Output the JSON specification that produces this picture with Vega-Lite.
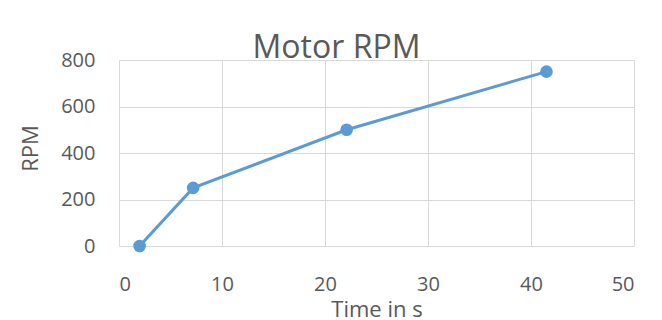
{
  "$schema": "https://vega.github.io/schema/vega-lite/v6.json",
  "width": 515,
  "height": 186,
  "autosize": {"type": "none"},
  "padding": {"left": 119, "top": 60, "right": 28, "bottom": 74},
  "background": "white",
  "title": {
    "text": "Motor RPM",
    "font": "Open Sans",
    "fontSize": 32,
    "fontWeight": "normal",
    "color": "#595959",
    "anchor": "middle",
    "frame": "group",
    "dx": -40,
    "dy": 42,
    "baseline": "alphabetic",
    "offset": 2
  },
  "data": {
    "values": [
      {"time": 2, "rpm": 0},
      {"time": 7.2, "rpm": 250},
      {"time": 22.1, "rpm": 500},
      {"time": 41.5, "rpm": 750}
    ]
  },
  "encoding": {
    "x": {
      "field": "time",
      "type": "quantitative",
      "scale": {"domain": [0, 50], "nice": false, "zero": false},
      "axis": {
        "title": "Time in s",
        "values": [0, 10, 20, 30, 40, 50],
        "grid": true,
        "gridColor": "#d9d9d9",
        "gridWidth": 1,
        "domain": false,
        "ticks": false,
        "labelFont": "Open Sans",
        "labelFontSize": 20,
        "labelColor": "#595959",
        "labelPadding": 28,
        "labelBaseline": "top",
        "titleFont": "Open Sans",
        "titleFontSize": 22,
        "titleFontWeight": "normal",
        "titleColor": "#595959",
        "titleBaseline": "alphabetic",
        "titleY": 70
      }
    },
    "y": {
      "field": "rpm",
      "type": "quantitative",
      "scale": {"domain": [0, 800], "nice": false, "zero": false},
      "axis": {
        "title": "RPM",
        "values": [0, 200, 400, 600, 800],
        "grid": true,
        "gridColor": "#d9d9d9",
        "gridWidth": 1,
        "domain": false,
        "ticks": false,
        "labelFont": "Open Sans",
        "labelFontSize": 20,
        "labelColor": "#595959",
        "labelPadding": 24,
        "titleFont": "Open Sans",
        "titleFontSize": 22,
        "titleFontWeight": "normal",
        "titleColor": "#595959",
        "titleAngle": -90,
        "titleAlign": "center",
        "titleBaseline": "alphabetic",
        "titleX": -82,
        "titleY": 88
      }
    }
  },
  "layer": [
    {"mark": {"type": "line", "color": "#5b9bd5", "strokeWidth": 3}},
    {"mark": {"type": "point", "filled": true, "shape": "circle", "color": "#5b9bd5", "opacity": 1, "size": 160}}
  ],
  "config": {
    "view": {"stroke": null}
  }
}
